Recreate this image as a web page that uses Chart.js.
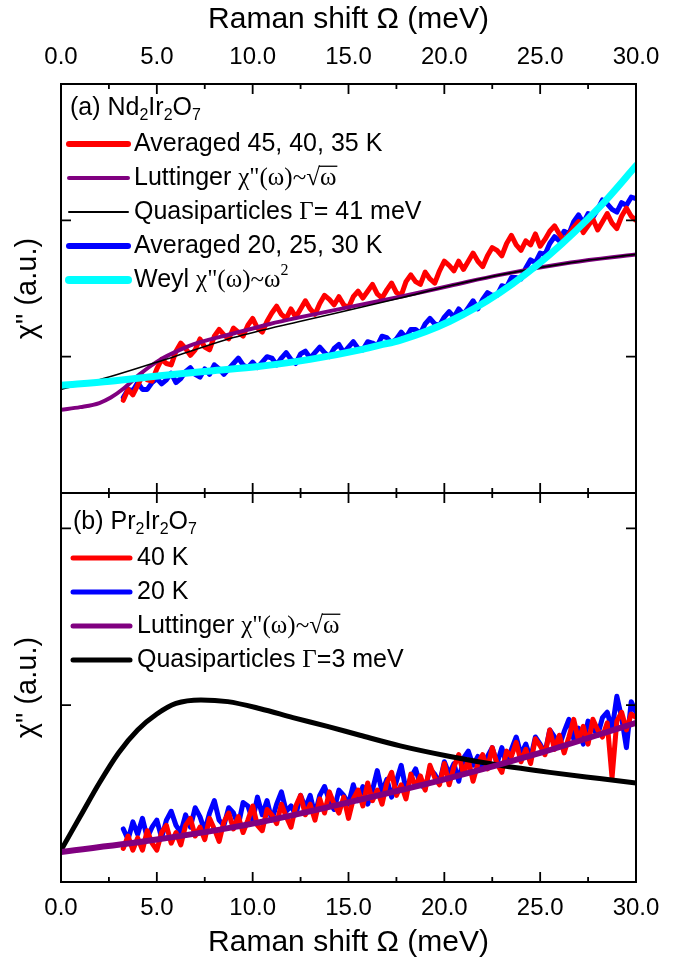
<!DOCTYPE html>
<html>
<head>
<meta charset="utf-8">
<script src="https://cdn.jsdelivr.net/npm/chart.js@4.4.1/dist/chart.umd.min.js"></script>
<style>
  html, body { margin: 0; padding: 0; background: #fff; overflow: hidden; }
  #wrap { position: relative; width: 685px; height: 959px; overflow: hidden; }
  #topChart { position: absolute; left: 0; top: 0; }
  #botChart { position: absolute; left: 0; top: 486px; }
</style>
</head>
<body>
<div id="wrap">
  <canvas id="topChart" width="685" height="500"></canvas>
  <canvas id="botChart" width="685" height="480"></canvas>
</div>
<script>
/* =====================
   data (Raman shift in meV, chi'' in arbitrary units)
===================== */
// common energy grid of the measured spectra
const specX = [3.25,3.5,3.75,4,4.25,4.5,4.75,5,5.25,5.5,5.75,6,6.25,6.5,6.75,7,7.25,7.5,7.75,8,
  8.25,8.5,8.75,9,9.25,9.5,9.75,10,10.25,10.5,10.75,11,11.25,11.5,11.75,12,12.25,12.5,12.75,13,
  13.25,13.5,13.75,14,14.25,14.5,14.75,15,15.25,15.5,15.75,16,16.25,16.5,16.75,17,17.25,17.5,17.75,18,
  18.25,18.5,18.75,19,19.25,19.5,19.75,20,20.25,20.5,20.75,21,21.25,21.5,21.75,22,22.25,22.5,22.75,23,
  23.25,23.5,23.75,24,24.25,24.5,24.75,25,25.25,25.5,25.75,26,26.25,26.5,26.75,27,27.25,27.5,27.75,28,
  28.25,28.5,28.75,29,29.25,29.5,29.75,30];

// (a) Nd2Ir2O7
const redTop = [0.68,0.76,0.72,0.79,0.86,0.83,0.82,0.91,0.98,0.95,
  0.94,1.04,1.10,1.06,1.01,1.05,1.13,1.07,1.05,1.15,
  1.20,1.16,1.13,1.21,1.18,1.15,1.23,1.28,1.21,1.18,
  1.26,1.32,1.37,1.31,1.28,1.35,1.29,1.35,1.41,1.35,
  1.31,1.39,1.45,1.42,1.38,1.44,1.38,1.36,1.44,1.48,
  1.43,1.48,1.53,1.46,1.43,1.49,1.54,1.47,1.45,1.55,
  1.60,1.55,1.53,1.62,1.57,1.54,1.63,1.70,1.67,1.63,
  1.70,1.64,1.70,1.76,1.70,1.66,1.74,1.80,1.78,1.74,
  1.83,1.89,1.82,1.78,1.85,1.82,1.90,1.81,1.86,1.92,
  1.96,1.90,1.85,1.90,1.95,1.99,1.91,1.96,2.01,1.93,
  1.99,2.05,1.98,1.94,2.03,2.09,2.03,2.00];
const blueTop = [0.70,0.76,0.75,0.81,0.76,0.76,0.81,0.84,0.80,0.83,
  0.88,0.81,0.84,0.89,0.92,0.87,0.85,0.91,0.87,0.94,
  0.91,0.87,0.91,0.95,0.99,0.94,0.92,0.96,0.92,0.96,
  1.00,0.99,0.94,0.99,1.03,0.98,0.95,1.02,1.04,0.99,
  1.03,1.07,1.03,1.00,1.06,1.09,1.03,1.07,1.11,1.06,
  1.05,1.11,1.10,1.08,1.15,1.14,1.10,1.13,1.18,1.14,
  1.20,1.20,1.17,1.24,1.28,1.24,1.23,1.29,1.33,1.29,
  1.35,1.31,1.36,1.41,1.35,1.42,1.47,1.45,1.45,1.52,
  1.51,1.58,1.58,1.57,1.65,1.71,1.69,1.76,1.75,1.83,
  1.88,1.85,1.92,1.90,1.99,2.04,1.98,2.05,2.02,2.08,
  2.15,2.12,2.08,2.06,2.13,2.11,2.17,2.16];
const luttTopX = [0, 1, 2, 2.6, 3.3, 4.1, 5.2, 6.2, 6.9, 9, 10.9, 12.5, 15.6, 17.7, 20.3, 22.9, 26.6, 30];
const luttTopY = [0.61, 0.63, 0.66, 0.70, 0.77, 0.87, 0.98, 1.05, 1.09, 1.17, 1.24, 1.29, 1.38, 1.44, 1.52, 1.60, 1.69, 1.75];
const quasiTopX = [0, 2, 5.9, 9, 12.5, 15.6, 17.7, 20.3, 22.9, 26.6, 30];
const quasiTopY = [0.76, 0.83, 1.00, 1.14, 1.26, 1.36, 1.43, 1.52, 1.60, 1.69, 1.75];
const weylX = [0, 2.56, 5.16, 7.77, 10.38, 12.99, 15.6, 16.63, 17.68, 20.29, 22.9, 25.51, 28.12, 30];
const weylY = [0.79, 0.82, 0.86, 0.895, 0.93, 0.98, 1.05, 1.085, 1.12, 1.26, 1.47, 1.75, 2.10, 2.40];

// (b) Pr2Ir2O7
const redBot = [0.19,0.26,0.18,0.25,0.18,0.29,0.22,0.18,0.28,0.32,
  0.22,0.28,0.21,0.32,0.36,0.26,0.31,0.24,0.36,0.30,
  0.23,0.34,0.39,0.30,0.37,0.28,0.35,0.43,0.32,0.29,
  0.41,0.38,0.33,0.44,0.37,0.31,0.43,0.49,0.38,0.44,
  0.35,0.47,0.39,0.51,0.44,0.39,0.48,0.36,0.47,0.52,
  0.43,0.56,0.46,0.52,0.44,0.56,0.62,0.49,0.55,0.47,
  0.61,0.54,0.60,0.52,0.66,0.59,0.55,0.67,0.55,0.65,
  0.72,0.61,0.69,0.57,0.67,0.72,0.64,0.76,0.67,0.62,
  0.74,0.71,0.79,0.68,0.75,0.67,0.81,0.77,0.72,0.86,
  0.75,0.83,0.73,0.82,0.92,0.80,0.88,0.78,0.92,0.86,
  0.82,0.90,0.59,0.91,0.96,0.86,0.95,0.93];
const blueBot = [0.30,0.24,0.34,0.27,0.36,0.25,0.31,0.35,0.25,0.35,
  0.40,0.32,0.28,0.38,0.31,0.42,0.37,0.29,0.39,0.46,
  0.35,0.32,0.42,0.39,0.32,0.45,0.43,0.35,0.48,0.38,
  0.46,0.35,0.44,0.51,0.40,0.43,0.38,0.49,0.42,0.49,
  0.38,0.49,0.54,0.46,0.41,0.52,0.49,0.44,0.55,0.46,
  0.54,0.44,0.52,0.63,0.51,0.58,0.48,0.57,0.66,0.52,
  0.59,0.64,0.55,0.53,0.64,0.61,0.56,0.68,0.61,0.67,
  0.57,0.70,0.74,0.66,0.71,0.64,0.71,0.76,0.67,0.76,
  0.66,0.75,0.82,0.72,0.78,0.70,0.82,0.78,0.73,0.86,
  0.82,0.77,0.85,0.92,0.81,0.87,0.78,0.91,0.87,0.83,
  0.93,0.96,0.86,1.05,0.93,0.76,1.02,0.96];
const luttBotX = [0, 5, 10, 15, 20, 25, 30];
const luttBotY = [0.17, 0.24, 0.33, 0.45, 0.58, 0.73, 0.90];
const quasiBotX = [0, 1, 2, 3, 4, 5, 6, 7.3, 8.7, 10.4, 12.1, 13.9, 15.6, 17.7, 20.3, 22.9, 25.5, 28.1, 30];
const quasiBotY = [0.18, 0.37, 0.56, 0.73, 0.86, 0.95, 1.01, 1.03, 1.02, 0.98, 0.93, 0.88, 0.83, 0.77, 0.71, 0.66, 0.62, 0.585, 0.56];

// axes
const xTicks = [0, 5, 10, 15, 20, 25, 30];
const xTitle = 'Raman shift Ω (meV)';
const yTitle = 'χ" (a.u.)';

/* =====================
   fonts
===================== */
const SANS = "'Liberation Sans', Arial, Helvetica, sans-serif";
const SERIF = "'Liberation Serif', 'Times New Roman', serif";
const axisSize = { tick: 24, title: 30, yTitle: 29 };

/* =====================
   helpers
===================== */
function pts(xs, ys) {
    return xs.map((x, i) => ({ x: x, y: ys[i] }));
}

// draws a run of text pieces (sub/superscripts, serif symbols, overline)
function drawRich(ctx, x, y, parts, size) {
    parts.forEach(p => {
        const small = p.sub || p.sup;
        const fs = small ? Math.round(size * 0.64) : size;
        ctx.font = fs + 'px ' + (p.serif ? SERIF : SANS);
        const dy = p.sub ? size * 0.3 : (p.sup ? -size * 0.36 : 0);
        ctx.fillText(p.t, x, y + dy);
        const w = ctx.measureText(p.t).width;
        if (p.over) {
            ctx.beginPath();
            ctx.moveTo(x - 1, y - size * 0.47);
            ctx.lineTo(x + w + 1, y - size * 0.47);
            ctx.stroke();
        }
        x += w;
    });
}

const frame = {
    id: 'frame',
    afterDraw(chart) {
        const ctx = chart.ctx, a = chart.chartArea;
        const xs = chart.scales.x, ys = chart.scales.y;
        ctx.save();
        ctx.strokeStyle = '#000';
        ctx.lineWidth = 2;
        ctx.strokeRect(a.left, a.top, a.right - a.left, a.bottom - a.top);
        ctx.lineWidth = 1.8;
        ctx.beginPath();
        xs.ticks.forEach(t => {
            const px = xs.getPixelForValue(t.value);
            ctx.moveTo(px, a.top); ctx.lineTo(px, a.top + 10);
            ctx.moveTo(px, a.bottom); ctx.lineTo(px, a.bottom - 10);
            if (t.value + 2.5 < xs.max) {
                const mx = xs.getPixelForValue(t.value + 2.5);
                ctx.moveTo(mx, a.top); ctx.lineTo(mx, a.top + 5);
                ctx.moveTo(mx, a.bottom); ctx.lineTo(mx, a.bottom - 5);
            }
        });
        ys.ticks.filter(t => Number.isInteger(t.value)).forEach(t => {
            const py = ys.getPixelForValue(t.value);
            ctx.moveTo(a.left, py); ctx.lineTo(a.left + 10, py);
            ctx.moveTo(a.right, py); ctx.lineTo(a.right - 10, py);
        });
        ctx.stroke();
        ctx.restore();
    }
};

function panelLegend(cfg) {
    return {
        id: 'panelLegend',
        afterDatasetsDraw(chart) {
            const ctx = chart.ctx, a = chart.chartArea;
            ctx.save();
            ctx.textBaseline = 'middle';
            ctx.textAlign = 'left';
            ctx.fillStyle = '#000';
            drawRich(ctx, a.left + cfg.titleX, a.top + cfg.titleY, cfg.title, cfg.size);
            cfg.rows.forEach((r, i) => {
                const y = a.top + cfg.rowY + i * cfg.rowGap;
                ctx.strokeStyle = r.color;
                ctx.lineWidth = r.width;
                ctx.lineCap = 'round';
                ctx.beginPath();
                ctx.moveTo(a.left + cfg.lineX0, y);
                ctx.lineTo(a.left + cfg.lineX1, y);
                ctx.stroke();
                ctx.strokeStyle = '#000';
                ctx.lineWidth = 1.3;
                ctx.lineCap = 'butt';
                drawRich(ctx, a.left + cfg.textX, y, r.parts, cfg.size);
            });
            ctx.restore();
        }
    };
}

const luttParts = [{ t: 'Luttinger ' }, { t: 'χ"(ω)~√', serif: true }, { t: 'ω', serif: true, over: true }];

const topLegend = {
    size: 25, titleX: 9, titleY: 24, rowY: 60, rowGap: 34, lineX0: 8, lineX1: 67, textX: 73,
    title: [{ t: '(a) Nd' }, { t: '2', sub: true }, { t: 'Ir' }, { t: '2', sub: true }, { t: 'O' }, { t: '7', sub: true }],
    rows: [
        { color: '#ff0000', width: 6, parts: [{ t: 'Averaged 45, 40, 35 K' }] },
        { color: '#800080', width: 4, parts: luttParts },
        { color: '#000000', width: 2, parts: [{ t: 'Quasiparticles ' }, { t: 'Γ', serif: true }, { t: '= 41 meV' }] },
        { color: '#0000ff', width: 6, parts: [{ t: 'Averaged 20, 25, 30 K' }] },
        { color: '#00ffff', width: 8, parts: [{ t: 'Weyl ' }, { t: 'χ"(ω)~ω', serif: true }, { t: '2', sup: true, serif: true }] }
    ]
};

const botLegend = {
    size: 25, titleX: 12, titleY: 29, rowY: 65, rowGap: 34, lineX0: 12, lineX1: 69, textX: 76,
    title: [{ t: '(b) Pr' }, { t: '2', sub: true }, { t: 'Ir' }, { t: '2', sub: true }, { t: 'O' }, { t: '7', sub: true }],
    rows: [
        { color: '#ff0000', width: 5, parts: [{ t: '40 K' }] },
        { color: '#0000ff', width: 5, parts: [{ t: '20 K' }] },
        { color: '#800080', width: 5, parts: luttParts },
        { color: '#000000', width: 5, parts: [{ t: 'Quasiparticles ' }, { t: 'Γ', serif: true }, { t: '=3 meV' }] }
    ]
};

/* =====================
   common options
===================== */
function panelOptions(xPos, yMax, pad) {
    const half = s => 0.6 * s;   // half of Chart.js line height (1.2)
    const titlePad = xPos === 'top'
        ? { top: Math.max(0, 20 - half(axisSize.title)), bottom: 0 }
        : { top: 0, bottom: Math.max(0, 23 - half(axisSize.title)) };
    return {
        responsive: false,
        animation: false,
        devicePixelRatio: 1,
        layout: { padding: pad },
        elements: {
            point: { radius: 0, hoverRadius: 0 },
            line: { fill: false, borderJoinStyle: 'round', borderCapStyle: 'round', tension: 0 }
        },
        plugins: { legend: { display: false }, tooltip: { enabled: false } },
        scales: {
            x: {
                type: 'linear', position: xPos, min: 0, max: 30,
                afterBuildTicks: s => { s.ticks = xTicks.map(v => ({ value: v })); },
                ticks: {
                    callback: v => v.toFixed(1), color: '#000',
                    padding: Math.round(26 - half(axisSize.tick)),
                    maxRotation: 0, autoSkip: false, font: { family: SANS, size: axisSize.tick }
                },
                grid: { display: false, drawTicks: false },
                border: { display: false },
                title: {
                    display: true, text: xTitle, color: '#000',
                    font: { family: SANS, size: axisSize.title },
                    padding: titlePad
                },
                afterFit: s => { s.height = 84; }
            },
            y: {
                type: 'linear', min: 0, max: yMax,
                ticks: { display: false, stepSize: 1 },
                grid: { display: false, drawTicks: false },
                border: { display: false },
                title: {
                    display: true, text: yTitle, color: '#000',
                    font: { family: SANS, size: axisSize.yTitle },
                    padding: Math.max(0, 28 - half(axisSize.yTitle))
                },
                afterFit: s => { s.width = 61; }
            }
        }
    };
}

/* =====================
   (a) Nd2Ir2O7
===================== */
new Chart(document.getElementById('topChart'), {
    type: 'line',
    data: {
        datasets: [
            { label: 'Weyl χ"(ω)~ω²', data: pts(weylX, weylY), borderColor: '#00ffff', borderWidth: 7, cubicInterpolationMode: 'monotone', order: 0 },
            { label: 'Quasiparticles Γ= 41 meV', data: pts(quasiTopX, quasiTopY), borderColor: '#000000', borderWidth: 1.6, cubicInterpolationMode: 'monotone', order: 1 },
            { label: 'Luttinger χ"(ω)~√ω', data: pts(luttTopX, luttTopY), borderColor: '#800080', borderWidth: 4, cubicInterpolationMode: 'monotone', order: 2 },
            { label: 'Averaged 45, 40, 35 K', data: pts(specX, redTop), borderColor: '#ff0000', borderWidth: 5, order: 3 },
            { label: 'Averaged 20, 25, 30 K', data: pts(specX, blueTop), borderColor: '#0000ff', borderWidth: 5, order: 4 }
        ]
    },
    options: panelOptions('top', 3, { left: 0, right: 49, top: 0, bottom: 7 }),
    plugins: [frame, panelLegend(topLegend)]
});

/* =====================
   (b) Pr2Ir2O7
===================== */
new Chart(document.getElementById('botChart'), {
    type: 'line',
    data: {
        datasets: [
            { label: 'Luttinger χ"(ω)~√ω', data: pts(luttBotX, luttBotY), borderColor: '#800080', borderWidth: 6, cubicInterpolationMode: 'monotone', order: 0 },
            { label: 'Quasiparticles Γ=3 meV', data: pts(quasiBotX, quasiBotY), borderColor: '#000000', borderWidth: 5, cubicInterpolationMode: 'monotone', order: 1 },
            { label: '40 K', data: pts(specX, redBot), borderColor: '#ff0000', borderWidth: 5, order: 2 },
            { label: '20 K', data: pts(specX, blueBot), borderColor: '#0000ff', borderWidth: 5, order: 3 }
        ]
    },
    options: panelOptions('bottom', 2.2, { left: 0, right: 49, top: 7, bottom: 0 }),
    plugins: [frame, panelLegend(botLegend)]
});
</script>
</body>
</html>
